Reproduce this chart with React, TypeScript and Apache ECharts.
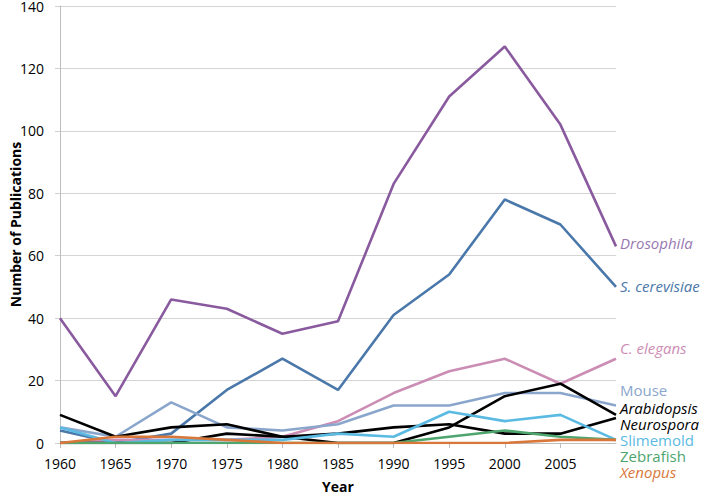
import React, { useEffect, useRef } from "react";
import * as echarts from "echarts";

const years = ["1960", "1965", "1970", "1975", "1980", "1985", "1990", "1995", "2000", "2005", "2010"];
const yTicks = [0, 20, 40, 60, 80, 100, 120, 140];

const drosophila = [40, 15, 46, 43, 35, 39, 83, 111, 127, 102, 63];
const cerevisiae = [4, 0, 3, 17, 27, 17, 41, 54, 78, 70, 50];
const elegans = [0, 1, 1, 1, 2, 7, 16, 23, 27, 19, 27];
const mouse = [5, 2, 13, 5, 4, 6, 12, 12, 16, 16, 12];
const arabidopsis = [0, 0, 0, 3, 2, 0, 0, 5, 15, 19, 9];
const neurospora = [9, 2, 5, 6, 2, 3, 5, 6, 3, 3, 8];
const slimemold = [5, 0, 1, 1, 1, 3, 2, 10, 7, 9, 1];
const zebrafish = [0, 0, 0, 0, 0, 0, 0, 2, 4, 2, 1];
const xenopus = [0, 2, 2, 1, 0, 0, 0, 0, 0, 1, 1];

const seriesNames = ["Drosophila", "S. cerevisiae", "C. elegans", "Mouse", "Arabidopsis", "Neurospora", "Slimemold", "Zebrafish", "Xenopus"];
const seriesData = [drosophila, cerevisiae, elegans, mouse, arabidopsis, neurospora, slimemold, zebrafish, xenopus];
const lineColors = ["#8A5A9F", "#4A78AA", "#CC8DB5", "#8AA6CC", "#000000", "#000000", "#5BBAE2", "#4EA56E", "#D9773A"];
const labelColors = ["#9A78B2", "#4A78AA", "#CC8DB5", "#8AA6CC", "#000000", "#000000", "#5BBAE2", "#4EA56E", "#D9773A"];
const labelItalic = [true, true, true, false, true, true, false, false, true];
const labelY = [243, 286, 348, 390, 408, 424, 440, 456, 472];

export default function App() {
  const ref = useRef<HTMLDivElement>(null);
  useEffect(() => {
    if (!ref.current) return;
    const chart = echarts.init(ref.current, null, { renderer: "svg" });
    const font = "'Open Sans', sans-serif";
    chart.setOption({
      animation: false,
      grid: { left: 60, right: 95, top: 6, bottom: 52, outerBoundsMode: "none", containLabel: false },
      xAxis: {
        type: "category",
        data: years,
        boundaryGap: false,
        name: "Year",
        nameLocation: "middle",
        nameGap: 36,
        nameMoveOverlap: false,
        nameTextStyle: { fontFamily: font, fontWeight: "bold", fontSize: 14, color: "#000" },
        axisLine: { lineStyle: { color: "#bdbdbd", width: 1 } },
        axisTick: { show: true, length: 5, lineStyle: { color: "#bdbdbd" } },
        axisLabel: {
          fontFamily: font,
          fontSize: 14,
          color: "#000",
          margin: 13,
          interval: (i: number) => i < years.length - 1,
        },
        splitLine: { show: false },
      },
      yAxis: {
        type: "value",
        min: 0,
        max: yTicks[yTicks.length - 1],
        interval: 20,
        name: "Number of Publications",
        nameLocation: "middle",
        nameGap: 38,
        nameMoveOverlap: false,
        nameTextStyle: { fontFamily: font, fontWeight: "bold", fontSize: 14, color: "#000" },
        axisLine: { show: true, lineStyle: { color: "#bdbdbd", width: 1 } },
        axisTick: { show: true, length: 5, lineStyle: { color: "#cfcfcf" } },
        axisLabel: { fontFamily: font, fontSize: 14, color: "#000", margin: 16 },
        splitLine: { show: true, lineStyle: { color: "#d4d4d4", width: 1 } },
      },
      series: seriesNames.map((n, i) => ({
        name: n,
        type: "line",
        data: seriesData[i],
        symbol: "none",
        lineStyle: { color: lineColors[i], width: 2.6 },
        itemStyle: { color: lineColors[i] },
      })),
      graphic: seriesNames.map((n, i) => ({
        type: "text",
        x: 620,
        y: labelY[i],
        style: {
          text: n,
          fill: labelColors[i],
          font: `${labelItalic[i] ? "italic " : ""}15px 'Open Sans', sans-serif`,
          lineHeight: 15,
          verticalAlign: "middle",
        },
      })),
    });
    return () => chart.dispose();
  }, []);
  return <div ref={ref} style={{ width: 711, height: 495, position: "absolute", left: 0, top: 0 }} />;
}
